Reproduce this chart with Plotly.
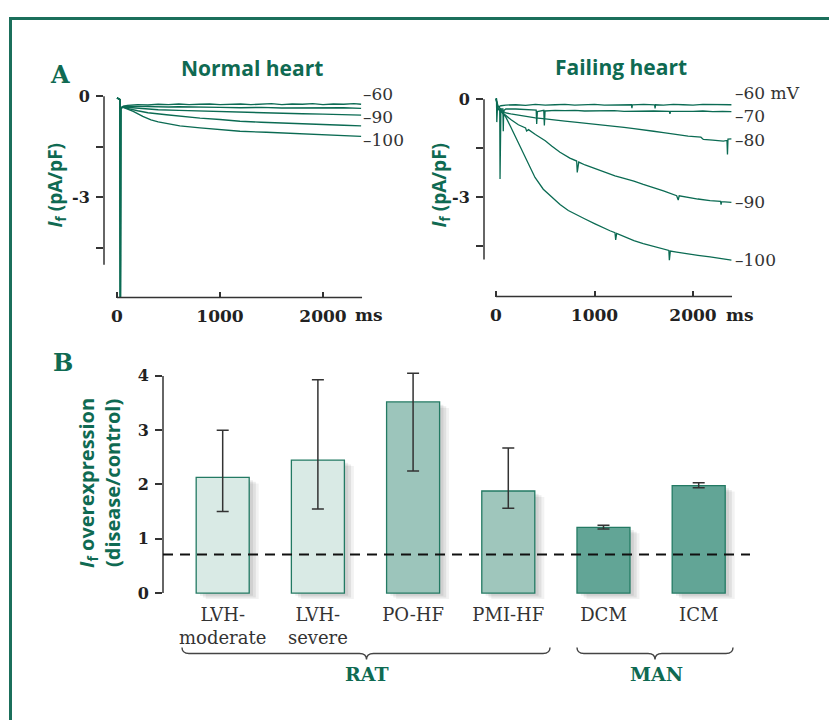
import plotly.graph_objects as go

# ---------------- data ----------------
# Panel A, normal heart: (time ms, If pA/pF) per test potential
norm_m60 = [(0, -0.05), (30, -0.1), (33, -5.97), (36, -0.35), (60, -0.3), (100, -0.27), (200, -0.25), (300, -0.26),
            (400, -0.24), (500, -0.25), (600, -0.23), (700, -0.25), (800, -0.24), (900, -0.23), (1000, -0.25),
            (1100, -0.24), (1200, -0.23), (1300, -0.25), (1400, -0.24), (1500, -0.22), (1600, -0.25), (1700, -0.23),
            (1800, -0.24), (1900, -0.22), (2000, -0.25), (2100, -0.23), (2200, -0.24), (2300, -0.22), (2370, -0.24)]
norm_m70 = [(0, -0.05), (30, -0.1), (33, -5.97), (36, -0.35), (60, -0.3), (100, -0.29), (200, -0.3), (300, -0.31),
            (400, -0.3), (500, -0.32), (600, -0.31), (700, -0.32), (800, -0.33), (900, -0.32), (1000, -0.33),
            (1200, -0.34), (1400, -0.33), (1600, -0.35), (1800, -0.34), (2000, -0.35), (2200, -0.34), (2370, -0.36)]
norm_m80 = [(0, -0.05), (30, -0.1), (33, -5.97), (36, -0.35), (60, -0.32), (100, -0.33), (200, -0.36), (300, -0.38),
            (400, -0.4), (600, -0.42), (800, -0.44), (1000, -0.46), (1200, -0.48), (1400, -0.5), (1600, -0.51),
            (1800, -0.52), (2000, -0.53), (2200, -0.55), (2370, -0.56)]
norm_m90 = [(0, -0.05), (30, -0.1), (33, -5.97), (36, -0.35), (60, -0.32), (100, -0.36), (200, -0.43), (300, -0.49),
            (480, -0.55), (600, -0.59), (806, -0.65), (1000, -0.69), (1194, -0.74), (1400, -0.77), (1600, -0.8),
            (1800, -0.82), (2000, -0.84), (2200, -0.86), (2370, -0.88)]
norm_m100 = [(0, -0.05), (30, -0.1), (33, -5.97), (36, -0.35), (60, -0.33), (100, -0.38), (158, -0.45), (250, -0.6),
             (330, -0.7), (400, -0.76), (482, -0.8), (610, -0.88), (806, -0.94), (1000, -0.99), (1194, -1.04),
             (1450, -1.07), (1700, -1.1), (2000, -1.14), (2200, -1.17), (2370, -1.19)]

# Panel A, failing heart
fail_m60 = [(0, 0.02), (5, 0.02), (8, -0.7), (15, -0.25), (50, -0.2), (100, -0.18), (200, -0.17), (300, -0.19),
            (400, -0.16), (500, -0.18), (600, -0.17), (700, -0.16), (800, -0.18), (900, -0.17), (1000, -0.16),
            (1100, -0.18), (1200, -0.17), (1300, -0.16), (1375, -0.17), (1380, -0.27), (1385, -0.17), (1500, -0.16),
            (1610, -0.17), (1615, -0.28), (1620, -0.17), (1700, -0.18), (1800, -0.16), (1900, -0.17), (2000, -0.18),
            (2100, -0.16), (2200, -0.17), (2300, -0.18), (2390, -0.17)]
fail_m70 = [(0, 0.02), (5, 0.0), (10, -0.3), (38, -0.3), (41, -2.44), (45, -0.5), (50, -0.3), (70, -0.3), (74, -0.98),
            (78, -0.35), (100, -0.3), (200, -0.3), (300, -0.32), (408, -0.33), (413, -0.76), (420, -0.38),
            (485, -0.34), (491, -0.8), (498, -0.36), (600, -0.34), (700, -0.35), (800, -0.34), (900, -0.36),
            (1000, -0.35), (1100, -0.36), (1200, -0.35), (1300, -0.37), (1400, -0.36), (1500, -0.37), (1600, -0.36),
            (1760, -0.37), (1766, -0.45), (1772, -0.37), (1900, -0.38), (2000, -0.37), (2100, -0.36), (2200, -0.38),
            (2300, -0.37), (2390, -0.38)]
fail_m80 = [(0, 0.02), (20, -0.2), (60, -0.35), (100, -0.42), (150, -0.45), (227, -0.49), (300, -0.53), (400, -0.57),
            (500, -0.6), (565, -0.63), (700, -0.67), (800, -0.7), (904, -0.73), (1000, -0.76), (1100, -0.79),
            (1208, -0.83), (1300, -0.86), (1400, -0.9), (1495, -0.93), (1600, -0.98), (1700, -1.02), (1834, -1.08),
            (1950, -1.13), (2080, -1.16), (2105, -1.23), (2200, -1.25), (2308, -1.28), (2345, -1.26), (2350, -1.69),
            (2355, -1.22), (2390, -1.21)]
fail_m90 = [(0, 0.02), (20, -0.3), (60, -0.4), (100, -0.5), (150, -0.62), (227, -0.78), (300, -0.88), (311, -0.97),
            (330, -0.93), (400, -1.08), (500, -1.27), (565, -1.43), (650, -1.62), (750, -1.8), (819, -1.89),
            (825, -2.24), (840, -1.92), (904, -2.01), (1000, -2.12), (1100, -2.22), (1208, -2.34), (1300, -2.42),
            (1400, -2.5), (1495, -2.6), (1600, -2.7), (1700, -2.8), (1834, -2.95), (1850, -3.08), (1860, -2.95),
            (1950, -3.0), (2050, -3.05), (2173, -3.1), (2280, -3.12), (2285, -3.22), (2290, -3.13), (2390, -3.15)]
fail_m100 = [(0, 0.02), (20, -0.3), (60, -0.4), (100, -0.55), (150, -0.85), (227, -1.33), (300, -1.8), (396, -2.39),
             (480, -2.75), (565, -3.0), (650, -3.22), (734, -3.4), (820, -3.54), (904, -3.66), (1000, -3.8),
             (1073, -3.91), (1157, -4.02), (1208, -4.08), (1215, -4.3), (1225, -4.1), (1300, -4.2), (1400, -4.32),
             (1495, -4.41), (1600, -4.5), (1700, -4.59), (1755, -4.62), (1760, -4.92), (1770, -4.64), (1834, -4.67),
             (1950, -4.73), (2050, -4.77), (2173, -4.82), (2280, -4.87), (2390, -4.92)]

normal_traces = [norm_m60, norm_m70, norm_m80, norm_m90, norm_m100]
failing_traces = [fail_m60, fail_m70, fail_m80, fail_m90, fail_m100]
normal_labels = ["\u201360", "\u201390", "\u2013100"]
failing_labels = ["\u201360 mV", "\u201370", "\u201380", "\u201390", "\u2013100"]
a_xticks = [0, 1000, 2000]
a_yticks = [0, -3]
a_yminor = [-1.5, -4.5]

# Panel B
categories = ["LVH-<br>moderate", "LVH-<br>severe", "PO-HF", "PMI-HF", "DCM", "ICM"]
overexpression = [2.13, 2.45, 3.52, 1.88, 1.21, 1.98]
err_high = [3.0, 3.93, 4.05, 2.67, 1.25, 2.03]
err_low = [1.5, 1.55, 2.25, 1.56, 1.18, 1.94]
reference_level = 0.71
b_yticks = [0, 1, 2, 3, 4]

# ---------------- styling ----------------
W, H = 829, 722
GREEN = "#0f6a52"
LINE_GREEN = "#0b6b53"
FRAME = "#1b6f5b"
DARK = "#222222"
SERIF = "DejaVu Serif"
SANS = "Open Sans"
bar_fills = ["#d9eae5", "#d9eae5", "#9cc5bb", "#9fc6bc", "#62a596", "#62a596"]


def X(p):
    return p / W


def Y(p):
    return 1 - p / H


fig = go.Figure()

for tr in normal_traces:
    t, v = zip(*tr)
    fig.add_trace(go.Scatter(x=list(t), y=list(v), mode="lines", line=dict(color=LINE_GREEN, width=1.4),
                             xaxis="x", yaxis="y", showlegend=False, hoverinfo="skip"))
for tr in failing_traces:
    t, v = zip(*tr)
    fig.add_trace(go.Scatter(x=list(t), y=list(v), mode="lines", line=dict(color=LINE_GREEN, width=1.3),
                             xaxis="x2", yaxis="y2", showlegend=False, hoverinfo="skip"))

BW = 0.557
for dx, dy, alpha in [(0.10, 0.11, 0.05), (0.07, 0.08, 0.07), (0.04, 0.05, 0.07)]:
    fig.add_trace(go.Bar(x=categories, y=overexpression, base=-dy, width=BW, offset=-BW / 2 + dx,
                         marker=dict(color=f"rgba(0,0,0,{alpha})", line=dict(width=0)),
                         xaxis="x3", yaxis="y3", showlegend=False, hoverinfo="skip"))
fig.add_trace(go.Bar(x=categories, y=overexpression, width=BW,
                     marker=dict(color=bar_fills, line=dict(color="#237a63", width=1.3)),
                     error_y=dict(type="data", symmetric=False,
                                  array=[h - v for h, v in zip(err_high, overexpression)],
                                  arrayminus=[v - l for l, v in zip(err_low, overexpression)],
                                  color="#333333", thickness=1.5, width=6),
                     xaxis="x3", yaxis="y3", showlegend=False, hoverinfo="skip"))

tickfont_b = dict(family=SERIF, size=17, color=DARK, weight="bold")

common_x = dict(showgrid=False, zeroline=False, showline=False, ticks="inside", ticklen=6, tickwidth=1.5,
                tickcolor="#333", tickvals=a_xticks, ticktext=[str(v) for v in a_xticks], tickfont=tickfont_b,
                ticklabelstandoff=6)
common_y = dict(showgrid=False, zeroline=False, showline=False, ticks="outside", ticklen=7, tickwidth=1.5,
                tickcolor="#333", tickvals=a_yticks, ticktext=["0", "-3"],
                minor=dict(tickvals=a_yminor, ticks="outside", ticklen=7, tickwidth=1.5, tickcolor="#333"),
                tickfont=dict(family=SERIF, size=16, color=DARK, weight="bold"), ticklabelstandoff=3)

# pixel geometry
L_y0, L_ms = 93, 0.103      # left panel: y px of 0, px per ms
R_y0, R_ms = 96, 0.0985
L_pu, R_pu = 34.0, 33.0     # px per pA/pF

fig.update_layout(
    width=W, height=H, margin=dict(l=0, r=0, t=0, b=0),
    paper_bgcolor="white", plot_bgcolor="rgba(0,0,0,0)",
    barmode="overlay", showlegend=False,
    xaxis=dict(domain=[X(104), X(365)], range=[(104 - 117) / L_ms, (365 - 117) / L_ms], anchor="y", **common_x),
    yaxis=dict(domain=[Y(296), Y(88)], range=[-(296 - L_y0) / L_pu, (L_y0 - 88) / L_pu], anchor="x", **common_y),
    xaxis2=dict(domain=[X(484), X(736)], range=[(484 - 496) / R_ms, (736 - 496) / R_ms], anchor="y2", **common_x),
    yaxis2=dict(domain=[Y(295), Y(88)], range=[-(295 - R_y0) / R_pu, (R_y0 - 88) / R_pu], anchor="x2", **common_y),
    xaxis3=dict(domain=[X(163), X(760)], range=[-0.627, 5.644], anchor="y3", showgrid=False, zeroline=False,
                showline=False, ticks="", tickfont=dict(family=SERIF, size=18, color="#333"),
                ticklabelstandoff=1),
    yaxis3=dict(domain=[Y(602), Y(360)], range=[-(602 - 594) / 54.75, (594 - 360) / 54.75], anchor="x3",
                showgrid=False, zeroline=False, showline=False, ticks="outside", ticklen=7, tickwidth=1.5,
                tickcolor="#333", tickvals=b_yticks, tickfont=dict(family=SERIF, size=16, color=DARK, weight="bold"),
                ticklabelstandoff=3),
)

shapes = []
# frame
shapes.append(dict(type="line", xref="paper", yref="paper", x0=X(10.5), x1=1.0, y0=Y(14.5), y1=Y(14.5),
                   line=dict(color=FRAME, width=3)))
shapes.append(dict(type="line", xref="paper", yref="paper", x0=X(10.5), x1=X(10.5), y0=Y(13), y1=0,
                   line=dict(color=FRAME, width=3)))
# panel A axes lines
shapes.append(dict(type="line", xref="x domain", yref="y", x0=0, x1=0, y0=0, y1=-5.0,
                   line=dict(color="#333", width=1.5)))
shapes.append(dict(type="line", xref="x", yref="y domain", x0=0, x1=2379, y0=0, y1=0,
                   line=dict(color="#333", width=1.5)))
shapes.append(dict(type="line", xref="x2 domain", yref="y2", x0=0, x1=0, y0=0, y1=-4.9,
                   line=dict(color="#333", width=1.5)))
shapes.append(dict(type="line", xref="x2", yref="y2 domain", x0=0, x1=2396, y0=0, y1=0,
                   line=dict(color="#333", width=1.5)))
# panel B axis + reference line
shapes.append(dict(type="line", xref="x3 domain", yref="y3", x0=0, x1=0, y0=0, y1=4,
                   line=dict(color="#333", width=1.5)))
shapes.append(dict(type="line", xref="x3 domain", yref="y3", x0=0, x1=(750 - 163) / (760 - 163),
                   y0=reference_level, y1=reference_level, line=dict(color="#111", width=2, dash="10px,7px")))


def brace(x0, xm, x1, y0):
    pts = (f"M {X(x0)},{Y(y0 - 6)} Q {X(x0)},{Y(y0)} {X(x0 + 7)},{Y(y0)} L {X(xm - 7)},{Y(y0)} "
           f"Q {X(xm)},{Y(y0)} {X(xm)},{Y(y0 + 6)} Q {X(xm)},{Y(y0)} {X(xm + 7)},{Y(y0)} "
           f"L {X(x1 - 7)},{Y(y0)} Q {X(x1)},{Y(y0)} {X(x1)},{Y(y0 - 6)}")
    return dict(type="path", xref="paper", yref="paper", path=pts, line=dict(color="#444", width=1.4))


shapes.append(brace(182, 366.5, 550, 655))
shapes.append(brace(577, 655, 733, 655))
fig.update_layout(shapes=shapes)

ann = []


def text(x, y, s, size, color, family, bold=False, xanchor="center", angle=0):
    ann.append(dict(x=X(x), y=Y(y), xref="paper", yref="paper", text=s, showarrow=False, xanchor=xanchor,
                    yanchor="middle", textangle=angle,
                    font=dict(family=family, size=size, color=color, weight="bold" if bold else "normal")))


text(60, 71, "A", 24, GREEN, SERIF, True)
text(63, 361, "B", 24, GREEN, SERIF, True)
text(252, 65, "Normal heart", 21, GREEN, SANS, True)
text(621, 64, "Failing heart", 21, GREEN, SANS, True)
text(56, 183, "<i>I</i><sub>f</sub> (pA/pF)", 19, GREEN, SANS, True, angle=-90)
text(440, 183, "<i>I</i><sub>f</sub> (pA/pF)", 19, GREEN, SANS, True, angle=-90)
text(100, 483, "<i>I</i><sub>f</sub> overexpression<br>(disease/control)", 20, GREEN, SANS, True, angle=-90)
text(369, 314, "ms", 17, DARK, SERIF, True)
text(740, 314, "ms", 17, DARK, SERIF, True)
for s, yy in zip(normal_labels, [91, 114, 137]):
    text(361, yy, s, 17, "#333", SERIF, False, xanchor="left")
for s, yy in zip(failing_labels, [90, 113, 137, 200, 258]):
    text(733, yy, s, 17, "#333", SERIF, False, xanchor="left")
text(367, 676, "RAT", 19, GREEN, SERIF, True)
text(656, 676, "MAN", 19, GREEN, SERIF, True)
fig.update_layout(annotations=ann)

fig.write_html("out.html", config={"displayModeBar": False},
               post_script=["document.body.style.margin='0';"])
